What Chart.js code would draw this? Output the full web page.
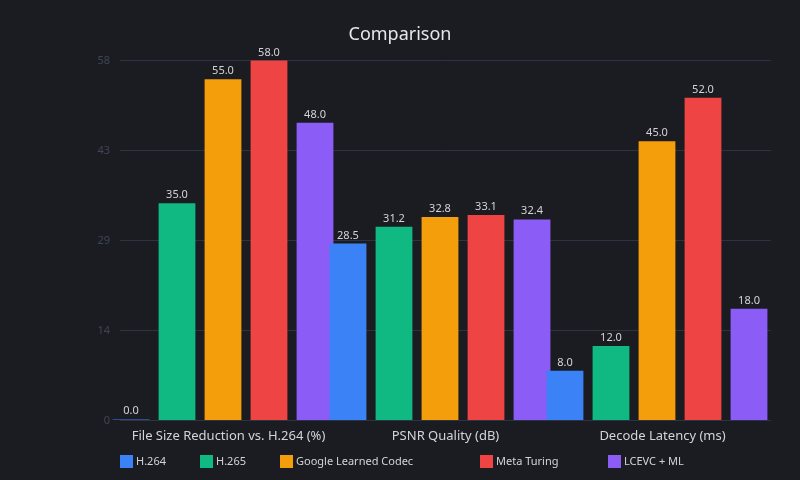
<!DOCTYPE html>
<html>
<head>
<meta charset="utf-8">
<script src="https://cdn.jsdelivr.net/npm/chart.js@4/dist/chart.umd.min.js"></script>
<style>
  html, body { margin: 0; padding: 0; background: #1b1c21; }
  #wrap { width: 800px; height: 480px; }
</style>
</head>
<body>
<div id="wrap"><canvas id="chart" width="800" height="480"></canvas></div>
<script>
  // categories + series
  const categories = ['File Size Reduction vs. H.264 (%)', 'PSNR Quality (dB)', 'Decode Latency (ms)'];
  const seriesNames = ['H.264', 'H.265', 'Google Learned Codec', 'Meta Turing', 'LCEVC + ML'];
  const seriesColors = ['#3b82f6', '#10b981', '#f59e0b', '#ef4444', '#8b5cf6'];

  const h264 = [0.0, 28.5, 8.0];
  const h265 = [35.0, 31.2, 12.0];
  const google = [55.0, 32.8, 45.0];
  const meta = [58.0, 33.1, 52.0];
  const lcevc = [48.0, 32.4, 18.0];
  const seriesValues = [h264, h265, google, meta, lcevc];

  // y axis: 0..58 in 4 steps
  const yMax = 58;
  const yStep = 14.5;

  // legend item x positions (the reference spaces them unevenly)
  const legendX = [120, 200, 280, 480, 608];
  // bar groups sit a bit left of the category centres in the reference
  const barShift = -5.5;

  const FONT = '"Noto Sans", sans-serif';

  // background fill
  const bgPlugin = {
    id: 'bg',
    beforeDraw(chart) {
      const c = chart.ctx;
      c.save();
      c.fillStyle = '#1b1c21';
      c.fillRect(0, 0, chart.width, chart.height);
      c.restore();
    }
  };

  // shift the bars + draw value labels above each bar
  const barsAndLabels = {
    id: 'barsAndLabels',
    beforeDatasetsDraw(chart) {
      chart.ctx.save();
      chart.ctx.translate(barShift, 0);
    },
    afterDatasetsDraw(chart) {
      const c = chart.ctx;
      c.font = '11px ' + FONT;
      c.fillStyle = '#d4d4d8';
      c.textAlign = 'center';
      c.textBaseline = 'alphabetic';
      chart.data.datasets.forEach((ds, i) => {
        chart.getDatasetMeta(i).data.forEach((bar, j) => {
          c.fillText(ds.data[j].toFixed(1), bar.x, bar.y - 5);
        });
      });
      c.restore();
    }
  };

  // legend row at the bottom
  const bottomLegend = {
    id: 'bottomLegend',
    afterDraw(chart) {
      const c = chart.ctx;
      c.save();
      c.font = '11px ' + FONT;
      c.textBaseline = 'middle';
      c.textAlign = 'left';
      chart.data.datasets.forEach((ds, i) => {
        const x = legendX[i];
        c.fillStyle = ds.backgroundColor;
        c.fillRect(x, 455, 13, 13);
        c.fillStyle = '#d4d4d8';
        c.fillText(ds.label, x + 16, 462);
      });
      c.restore();
    }
  };

  const datasets = seriesNames.map((name, i) => ({
    label: name,
    data: seriesValues[i],
    backgroundColor: seriesColors[i],
    borderWidth: 0,
    minBarLength: 1,
    barPercentage: 0.8,
    categoryPercentage: 1.06,
    clip: false
  }));

  new Chart(document.getElementById('chart'), {
    type: 'bar',
    data: { labels: categories, datasets },
    options: {
      responsive: false,
      animation: false,
      layout: { padding: { left: 29, right: 29, top: 0, bottom: 36 } },
      plugins: {
        legend: { display: false },
        tooltip: { enabled: false },
        title: {
          display: true,
          text: 'Comparison',
          color: '#e5e7eb',
          font: { family: FONT, size: 18, weight: 'normal' },
          padding: { top: 24, bottom: 15 }
        }
      },
      scales: {
        x: {
          grid: { display: false },
          border: { display: false },
          ticks: {
            color: '#d4d4d8',
            font: { family: FONT, size: 13 },
            padding: 0
          }
        },
        y: {
          min: 0,
          max: yMax,
          grid: { color: '#2c3444', drawTicks: false },
          border: { display: false },
          afterFit(scale) { scale.width = 91; },
          ticks: {
            stepSize: yStep,
            color: '#3d4656',
            font: { family: FONT, size: 11 },
            padding: 10,
            callback: v => Math.floor(v)
          }
        }
      }
    },
    plugins: [bgPlugin, barsAndLabels, bottomLegend]
  });
</script>
</body>
</html>
